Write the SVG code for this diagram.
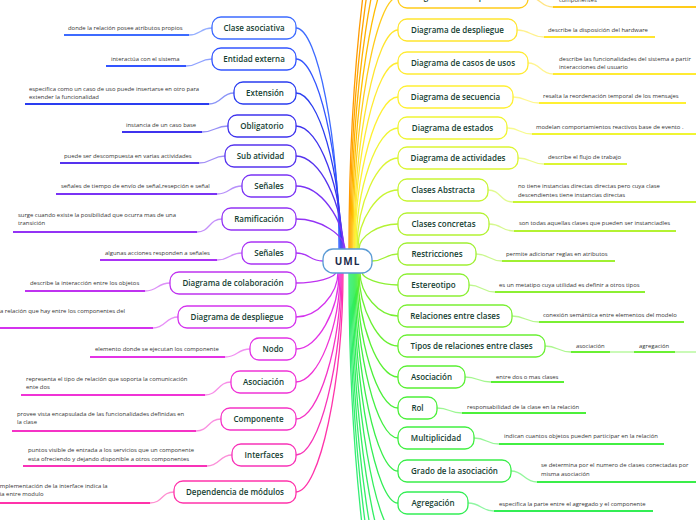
<svg xmlns="http://www.w3.org/2000/svg" width="696" height="520" viewBox="0 0 696 520">
<style>
.n rect{fill:#fff;stroke-width:1.3}
.n text{font-family:"Open Sans","Noto Sans",sans-serif;font-size:8px;font-weight:600;fill:#163f33;text-anchor:middle}
.l{font-family:"Open Sans","Noto Sans",sans-serif;font-size:5.9px;fill:#333}
.c path{fill:none;stroke-width:1.3}
.u{fill:none;stroke-width:2.2}
.k{fill:none;stroke-width:1;opacity:.55}
</style>
<rect width="696" height="520" fill="#fff"/>
<g id="connectors" class="c">
<path d="M339,250 C339,139 317.5,28 296,28" stroke="#3d6bff"/>
<path d="M340,250 C340,154.5 318,59 296,59" stroke="#3355ff"/>
<path d="M341,250 C341,171.5 318.5,93 296,93" stroke="#2a3df0"/>
<path d="M342,250 C342,188 319,126 296,126" stroke="#3f33ee"/>
<path d="M343,250 C343,203 319.5,156 296,156" stroke="#5533ee"/>
<path d="M344,250 C344,218 320,186 296,186" stroke="#7a33f5"/>
<path d="M345,250 C345,234.5 320.5,219 296,219" stroke="#9333f5"/>
<path d="M323,261 C309,261 310,253 296,253" stroke="#aa33f5"/>
<path d="M336,272 C336,277.5 316,283 296,283" stroke="#bf33f0"/>
<path d="M338,272 C338,294.5 317,317 296,317" stroke="#d433ee"/>
<path d="M339,272 C339,310.5 317.5,349 296,349" stroke="#e333e6"/>
<path d="M340,272 C340,327 318,382 296,382" stroke="#f033d6"/>
<path d="M341,272 C341,345.5 318.5,419 296,419" stroke="#f533c6"/>
<path d="M342,272 C342,363.5 319,455 296,455" stroke="#f833b8"/>
<path d="M343,272 C343,382 319.5,492 296,492" stroke="#ff33aa"/>
<path d="M349,249 C349,57 373.5,-135 398,-135" stroke="#ff9a00"/>
<path d="M350,249 C350,73.5 374,-102 398,-102" stroke="#ffa500"/>
<path d="M351,249 C351,90 374.5,-69 398,-69" stroke="#ffb000"/>
<path d="M352,249 C352,106.5 375,-36 398,-36" stroke="#ffbe00"/>
<path d="M353,249 C353,123 375.5,-3 398,-3" stroke="#ffcc1a"/>
<path d="M354,249 C354,139.5 376,30 398,30" stroke="#ffe52e"/>
<path d="M354.5,249 C354.5,156 376,63 398,63" stroke="#ffeb33"/>
<path d="M355,249 C355,173 376.5,97 398,97" stroke="#fff033"/>
<path d="M356,249 C356,188.5 377,128 398,128" stroke="#f0f533"/>
<path d="M357,249 C357,203.5 377.5,158 398,158" stroke="#dcf533"/>
<path d="M358,249 C358,219.5 378,190 398,190" stroke="#c8f533"/>
<path d="M359,249 C359,236.5 378.5,224 398,224" stroke="#b4f233"/>
<path d="M372,261 C385,261 385,254 398,254" stroke="#a0f033"/>
<path d="M362,272 C362,278.5 380,285 398,285" stroke="#8cf033"/>
<path d="M360,272 C360,294 379,316 398,316" stroke="#7af033"/>
<path d="M359,272 C359,309 378.5,346 398,346" stroke="#6af033"/>
<path d="M358,272 C358,324.5 378,377 398,377" stroke="#5af033"/>
<path d="M357,272 C357,340 377.5,408 398,408" stroke="#4cf03a"/>
<path d="M356,272 C356,355 377,438 398,438" stroke="#42ef42"/>
<path d="M355,272 C355,371.5 376.5,471 398,471" stroke="#3aee4a"/>
<path d="M354,272 C354,387.5 376,503 398,503" stroke="#33ee55"/>
<path d="M353,272 C353,404 375.5,536 398,536" stroke="#33ee5c"/>
<path d="M352,272 C352,420.5 375,569 398,569" stroke="#33ee62"/>
<path d="M351,272 C351,437 374.5,602 398,602" stroke="#33ee68"/>
<path d="M350,272 C350,453.5 374,635 398,635" stroke="#33ee6e"/>
<path d="M349,272 C349,470 373.5,668 398,668" stroke="#33ee74"/>
<path class="k" d="M212,28 C200,28 201,35 189,35" stroke="#3d6bff"/>
<path class="k" d="M212,59 C199,59 199,66 186,66" stroke="#3355ff"/>
<path class="k" d="M234,93 C221,93 222,104 209,104" stroke="#2a3df0"/>
<path class="k" d="M228,126 C215,126 215,132 202,132" stroke="#3f33ee"/>
<path class="k" d="M225,156 C212,156 212,163 199,163" stroke="#5533ee"/>
<path class="k" d="M242,186 C229,186 230,194 217,194" stroke="#7a33f5"/>
<path class="k" d="M222,219 C209,219 210,232 197,232" stroke="#9333f5"/>
<path class="k" d="M242,253 C229,253 230,260 217,260" stroke="#aa33f5"/>
<path class="k" d="M170,283 C157,283 158,291 145,291" stroke="#bf33f0"/>
<path class="k" d="M178,317 C165,317 166,328 153,328" stroke="#d433ee"/>
<path class="k" d="M250,349 C237,349 238,357 225,357" stroke="#e333e6"/>
<path class="k" d="M231,382 C218,382 218,395 205,395" stroke="#f033d6"/>
<path class="k" d="M221,419 C208,419 209,431 196,431" stroke="#f533c6"/>
<path class="k" d="M232,455 C219,455 220,466 207,466" stroke="#f833b8"/>
<path class="k" d="M174,492 C161,492 163,503 150,503" stroke="#ff33aa"/>
<path class="k" d="M528,-3 C541,-3 540,7 553,7" stroke="#ffcc1a"/>
<path class="k" d="M517,30 C530,30 531,37 544,37" stroke="#ffe52e"/>
<path class="k" d="M528,63 C541,63 540,74 553,74" stroke="#ffeb33"/>
<path class="k" d="M513,97 C526,97 526,103 539,103" stroke="#fff033"/>
<path class="k" d="M507,128 C520,128 519,134 532,134" stroke="#f0f533"/>
<path class="k" d="M518,158 C531,158 531,164 544,164" stroke="#dcf533"/>
<path class="k" d="M488,190 C501,190 500,202 513,202" stroke="#c8f533"/>
<path class="k" d="M489,224 C502,224 501,231 514,231" stroke="#b4f233"/>
<path class="k" d="M476,254 C489,254 489,261 502,261" stroke="#a0f033"/>
<path class="k" d="M469,285 C482,285 482,292 495,292" stroke="#8cf033"/>
<path class="k" d="M512,316 C525,316 526,322 539,322" stroke="#7af033"/>
<path class="k" d="M545,346 C558,346 558,352 571,352" stroke="#6af033"/>
<path class="k" d="M610,352 L634,352" stroke="#6af033"/>
<path class="k" d="M675,352 L696,352" stroke="#6af033"/>
<path class="k" d="M465,377 C478,377 478,382 491,382" stroke="#5af033"/>
<path class="k" d="M437,408 C450,408 449,413 462,413" stroke="#4cf03a"/>
<path class="k" d="M474,438 C487,438 486,444 499,444" stroke="#42ef42"/>
<path class="k" d="M511,471 C524,471 524,482 537,482" stroke="#3aee4a"/>
<path class="k" d="M468,503 C481,503 481,511 494,511" stroke="#33ee55"/>
</g>
<g id="underlines">
<path class="u" d="M64,35H189" stroke="#3d6bff"/>
<path class="u" d="M106,66H186" stroke="#3355ff"/>
<path class="u" d="M25,104H209" stroke="#2a3df0"/>
<path class="u" d="M122,132H202" stroke="#3f33ee"/>
<path class="u" d="M60,163H199" stroke="#5533ee"/>
<path class="u" d="M56,194H217" stroke="#7a33f5"/>
<path class="u" d="M13,232H197" stroke="#9333f5"/>
<path class="u" d="M100,260H217" stroke="#aa33f5"/>
<path class="u" d="M25,291H145" stroke="#bf33f0"/>
<path class="u" d="M0,328H153" stroke="#d433ee"/>
<path class="u" d="M90,357H225" stroke="#e333e6"/>
<path class="u" d="M21,395H205" stroke="#f033d6"/>
<path class="u" d="M12,431H196" stroke="#f533c6"/>
<path class="u" d="M23,466H207" stroke="#f833b8"/>
<path class="u" d="M0,503H150" stroke="#ff33aa"/>
<path class="u" d="M553,7H696" stroke="#ffcc1a"/>
<path class="u" d="M544,37H655" stroke="#ffe52e"/>
<path class="u" d="M553,74H696" stroke="#ffeb33"/>
<path class="u" d="M539,103H686" stroke="#fff033"/>
<path class="u" d="M532,134H696" stroke="#f0f533"/>
<path class="u" d="M544,164H627" stroke="#dcf533"/>
<path class="u" d="M513,202H696" stroke="#c8f533"/>
<path class="u" d="M514,231H676" stroke="#b4f233"/>
<path class="u" d="M502,261H615" stroke="#a0f033"/>
<path class="u" d="M495,292H645" stroke="#8cf033"/>
<path class="u" d="M539,322H684" stroke="#7af033"/>
<path class="u" d="M571,352H610" stroke="#6af033"/>
<path class="u" d="M634,352H675" stroke="#6af033"/>
<path class="u" d="M491,382H564" stroke="#5af033"/>
<path class="u" d="M462,413H586" stroke="#4cf03a"/>
<path class="u" d="M499,444H664" stroke="#42ef42"/>
<path class="u" d="M537,482H696" stroke="#3aee4a"/>
<path class="u" d="M494,511H653" stroke="#33ee55"/>
</g>
<g id="labels" class="l">
<text x="68" y="30">donde la relación posee atributos propios</text>
<text x="111" y="61">interactúa con el sistema</text>
<text x="29" y="91">especifica como un caso de uso puede insertarse en otro para</text>
<text x="29" y="99">extender la funcionalidad</text>
<text x="126" y="127">instancia de un caso base</text>
<text x="64" y="158">puede ser descompuesta en varias actividades</text>
<text x="61" y="188">señales de tiempo de envío de señal,resepción e señal</text>
<text x="18" y="217">surge cuando existe la posibilidad que ocurra mas de una</text>
<text x="18" y="225">transición</text>
<text x="105" y="255">algunas acciones responden a señales</text>
<text x="30" y="285">describe la interacción entre los objetos</text>
<text x="-1.5" y="313">la relación que hay entre los componentes del</text>
<text x="95" y="351">elemento donde se ejecutan los componente</text>
<text x="26" y="381">representa el tipo de relación que soporta la comunicación</text>
<text x="26" y="389">ente dos</text>
<text x="17" y="416">provee vista encapsulada de las funcionalidades  definidas en</text>
<text x="17" y="424">la clase</text>
<text x="28" y="452">puntos visible de entrada a los servicios que un componente</text>
<text x="28" y="461">esta ofreciendo y dejando disponible a otros componentes</text>
<text x="-1.7" y="488">implementación de la interface indica la</text>
<text x="-31" y="496">dependencia entre modulo</text>
<text x="559" y="2">componentes</text>
<text x="548" y="32">describe  la disposición del hardware</text>
<text x="559" y="61">describe las funcionalidades del sistema  a partir</text>
<text x="559" y="69">interacciones  del usuario</text>
<text x="543" y="98">resalta la reordenación temporal de los mensajes</text>
<text x="536" y="129">modelan comportamientos  reactivos  base de evento .</text>
<text x="548" y="159">describe el flujo de trabajo</text>
<text x="518" y="188">no tiene instancias directas directas  pero cuya clase</text>
<text x="518" y="197">descendientes tiene instancias directas</text>
<text x="519" y="225">son todas aquellas clases que pueden ser instanciadles</text>
<text x="506" y="256">permite adicionar reglas  en atributos</text>
<text x="499" y="287">es un metatipo cuya utilidad es definir a otros tipos</text>
<text x="543" y="317">conexión semántica entre elementos del modelo</text>
<text x="576" y="348">asociación</text>
<text x="639" y="348">agregación</text>
<text x="496" y="379">entre dos o mas clases</text>
<text x="467" y="409">responsabilidad de la clase en la relación</text>
<text x="504" y="438">indican cuantos objetos pueden participar en la relación</text>
<text x="541" y="467">se determina por el numero de clases  conectadas  por</text>
<text x="541" y="476">misma asociación</text>
<text x="499" y="506">especifica la parte entre el agregado y el componente</text>
</g>
<g id="n-uml" class="n"><rect x="323" y="249" width="49" height="24" rx="10" stroke="#5b9bd5"/><text x="347.5" y="265" style="font-size:10px;font-weight:700;fill:#1b2b4b;letter-spacing:1px">UML</text></g>
<g id="n-clase-asociativa" class="n"><rect x="212" y="17" width="84" height="22" rx="9" stroke="#3d6bff"/><text x="254" y="31">Clase asociativa</text></g>
<g id="n-entidad-externa" class="n"><rect x="212" y="48" width="84" height="22" rx="9" stroke="#3355ff"/><text x="254" y="62">Entidad externa</text></g>
<g id="n-extension" class="n"><rect x="234" y="82" width="62" height="22" rx="9" stroke="#2a3df0"/><text x="265" y="96">Extensión</text></g>
<g id="n-obligatorio" class="n"><rect x="228" y="115" width="68" height="22" rx="9" stroke="#3f33ee"/><text x="262" y="129">Obligatorio</text></g>
<g id="n-sub-atividad" class="n"><rect x="225" y="145" width="71" height="22" rx="9" stroke="#5533ee"/><text x="260.5" y="159">Sub atividad</text></g>
<g id="n-senales-1" class="n"><rect x="242" y="175" width="54" height="22" rx="9" stroke="#7a33f5"/><text x="269" y="189">Señales</text></g>
<g id="n-ramificacion" class="n"><rect x="222" y="208" width="74" height="22" rx="9" stroke="#9333f5"/><text x="259" y="222">Ramificación</text></g>
<g id="n-senales-2" class="n"><rect x="242" y="242" width="54" height="22" rx="9" stroke="#aa33f5"/><text x="269" y="256">Señales</text></g>
<g id="n-diagrama-colaboracion" class="n"><rect x="170" y="272" width="126" height="22" rx="9" stroke="#bf33f0"/><text x="233" y="286">Diagrama de colaboración</text></g>
<g id="n-diagrama-despliegue-l" class="n"><rect x="178" y="306" width="118" height="22" rx="9" stroke="#d433ee"/><text x="237" y="320">Diagrama de despliegue</text></g>
<g id="n-nodo" class="n"><rect x="250" y="338" width="46" height="22" rx="9" stroke="#e333e6"/><text x="273" y="352">Nodo</text></g>
<g id="n-asociacion-l" class="n"><rect x="231" y="371" width="65" height="22" rx="9" stroke="#f033d6"/><text x="263.5" y="385">Asociación</text></g>
<g id="n-componente" class="n"><rect x="221" y="408" width="75" height="22" rx="9" stroke="#f533c6"/><text x="258.5" y="422">Componente</text></g>
<g id="n-interfaces" class="n"><rect x="232" y="444" width="64" height="22" rx="9" stroke="#f833b8"/><text x="264" y="458">Interfaces</text></g>
<g id="n-dependencia" class="n"><rect x="174" y="481" width="122" height="22" rx="9" stroke="#ff33aa"/><text x="235" y="495">Dependencia de módulos</text></g>
<g id="n-diagrama-componentes" class="n"><rect x="398" y="-14" width="130" height="22" rx="9" stroke="#ffcc1a"/><text x="463" y="0">Diagrama de componentes</text></g>
<g id="n-diagrama-despliegue-r" class="n"><rect x="398" y="19" width="119" height="22" rx="9" stroke="#ffe52e"/><text x="457.5" y="33">Diagrama de despliegue</text></g>
<g id="n-casos-usos" class="n"><rect x="398" y="52" width="130" height="22" rx="9" stroke="#ffeb33"/><text x="463" y="66">Diagrama de casos de usos</text></g>
<g id="n-secuencia" class="n"><rect x="398" y="86" width="115" height="22" rx="9" stroke="#fff033"/><text x="455.5" y="100">Diagrama de secuencia</text></g>
<g id="n-estados" class="n"><rect x="398" y="117" width="109" height="22" rx="9" stroke="#f0f533"/><text x="452.5" y="131">Diagrama de estados</text></g>
<g id="n-actividades" class="n"><rect x="398" y="147" width="120" height="22" rx="9" stroke="#dcf533"/><text x="458" y="161">Diagrama de actividades</text></g>
<g id="n-clases-abstracta" class="n"><rect x="398" y="179" width="90" height="22" rx="9" stroke="#c8f533"/><text x="443" y="193">Clases Abstracta</text></g>
<g id="n-clases-concretas" class="n"><rect x="398" y="213" width="91" height="22" rx="9" stroke="#b4f233"/><text x="443.5" y="227">Clases concretas</text></g>
<g id="n-restricciones" class="n"><rect x="398" y="243" width="78" height="22" rx="9" stroke="#a0f033"/><text x="437" y="257">Restricciones</text></g>
<g id="n-estereotipo" class="n"><rect x="398" y="274" width="71" height="22" rx="9" stroke="#8cf033"/><text x="433.5" y="288">Estereotipo</text></g>
<g id="n-relaciones" class="n"><rect x="398" y="305" width="114" height="22" rx="9" stroke="#7af033"/><text x="455" y="319">Relaciones entre clases</text></g>
<g id="n-tipos-relaciones" class="n"><rect x="398" y="335" width="147" height="22" rx="9" stroke="#6af033"/><text x="471.5" y="349">Tipos de relaciones entre clases</text></g>
<g id="n-asociacion-r" class="n"><rect x="398" y="366" width="67" height="22" rx="9" stroke="#5af033"/><text x="431.5" y="380">Asociación</text></g>
<g id="n-rol" class="n"><rect x="398" y="397" width="39" height="22" rx="9" stroke="#4cf03a"/><text x="417.5" y="411">Rol</text></g>
<g id="n-multiplicidad" class="n"><rect x="398" y="427" width="76" height="22" rx="9" stroke="#42ef42"/><text x="436" y="441">Multiplicidad</text></g>
<g id="n-grado" class="n"><rect x="398" y="460" width="113" height="22" rx="9" stroke="#3aee4a"/><text x="454.5" y="474">Grado de la asociación</text></g>
<g id="n-agregacion" class="n"><rect x="398" y="492" width="70" height="22" rx="9" stroke="#33ee55"/><text x="433" y="506">Agregación</text></g>
</svg>
